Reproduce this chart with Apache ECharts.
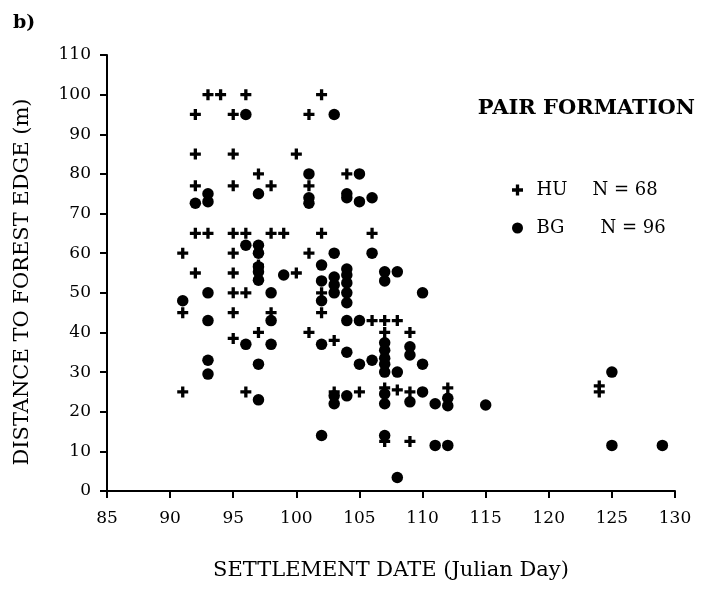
<!DOCTYPE html>
<html>
<head>
  <meta charset="utf-8" />
  <style>
    body, html { margin: 0; width: 100%; height: 100%; background: #fff; }
    #chart { width: 705px; height: 594px; }
  </style>
  <script src="https://cdn.jsdelivr.net/npm/echarts@6/dist/echarts.min.js"></script>
</head>
<body>
  <div id="chart"></div>
  <script>
    // HU (+) settlement day / distance
    var huDay = [91, 91, 91, 92, 92, 92, 92, 92, 93, 93, 94,
      95, 95, 95, 95, 95, 95, 95, 95, 95, 96, 96, 96, 96,
      97, 97, 97, 98, 98, 98, 99, 100, 100, 101, 101, 101, 101,
      102, 102, 102, 102, 103, 103, 104, 105, 106, 106,
      107, 107, 107, 107, 108, 108, 109, 109, 109, 112, 124, 124]
    var huDist = [60, 45, 25, 95, 85, 77, 65, 55, 100, 65, 100,
      95, 85, 77, 65, 60, 55, 50, 45, 38.5, 100, 65, 50, 25,
      80, 57, 40, 77, 65, 45, 65, 85, 55, 95, 77, 60, 40,
      100, 65, 50, 45, 38, 25, 80, 25, 65, 43,
      43, 40, 26, 12.5, 43, 25.5, 40, 25, 12.5, 26, 26.5, 25]

    // BG (circles)
    var bgDay = [91, 92, 93, 93, 93, 93, 93, 93, 96, 96, 96,
      97, 97, 97, 97, 97, 97, 97, 97, 98, 98, 98, 99, 101, 101, 101,
      102, 102, 102, 102, 102, 103, 103, 103, 103, 103, 103, 103,
      104, 104, 104, 104, 104, 104, 104, 104, 104, 104,
      105, 105, 105, 105, 106, 106, 106,
      107, 107, 107, 107, 107, 107, 107, 107, 107, 107,
      108, 108, 108, 109, 109, 109, 110, 110, 110, 111, 111,
      112, 112, 112, 115, 125, 125, 129]
    var bgDist = [48, 72.6, 75, 73, 50, 43, 33, 29.5, 95, 62, 37,
      75, 62, 60, 56.6, 55.3, 53.2, 32, 23, 50, 43, 37, 54.5, 80, 74, 72.6,
      57, 53, 48, 37, 14, 95, 60, 54, 52, 50, 24, 22,
      75, 74, 56, 54.5, 52.5, 50, 47.5, 43, 35, 24,
      80, 73, 43, 32, 74, 60, 33,
      55.3, 53, 37.4, 35.5, 33.5, 32, 30, 24.5, 22, 14,
      55.3, 30, 3.4, 36.4, 34.3, 22.5, 50, 32, 25, 22, 11.5,
      23.4, 21.5, 11.5, 21.7, 30, 11.5, 11.5]

    var xTicks = [85, 130, 5]
    var yTicks = [0, 110, 10]

    function pairs(xs, ys) {
      return xs.map(function (x, i) { return [x, ys[i]] })
    }

    var plus = 'path://M3.5,0H6.5V3.5H10V6.5H6.5V10H3.5V6.5H0V3.5H3.5Z'
    var serif = '"DejaVu Serif", "Liberation Serif", serif'

    var chart = echarts.init(document.getElementById('chart'))
    chart.setOption({
      animation: false,
      backgroundColor: '#fff',
      textStyle: { fontFamily: serif, color: '#000' },
      title: [
        { text: 'b)', left: 8, top: 9, textStyle: { fontFamily: serif, fontSize: 19, fontWeight: 'bold', color: '#000' } },
        { text: 'PAIR FORMATION', right: 5, top: 93, textStyle: { fontFamily: serif, fontSize: 21, fontWeight: 'bold', color: '#000' } }
      ],
      legend: {
        orient: 'vertical',
        left: 507,
        top: 176,
        itemGap: 20,
        itemWidth: 28,
        itemHeight: 11,
        data: [
          { name: 'HU', icon: plus },
          { name: 'BG', icon: 'circle' }
        ],
        textStyle: {
          fontFamily: serif, fontSize: 18, color: '#000',
          rich: {
            a: { fontFamily: serif, fontSize: 18, width: 56 },
            b: { fontFamily: serif, fontSize: 18, width: 64 },
            v: { fontFamily: serif, fontSize: 18 }
          }
        },
        formatter: function (name) {
          return name === 'HU' ? '{a|HU}{v|N = 68}' : '{b|BG}{v|N = 96}'
        }
      },
      grid: { left: 107, right: 30, top: 55, bottom: 103 },
      xAxis: {
        type: 'value',
        min: xTicks[0], max: xTicks[1], interval: xTicks[2],
        name: 'SETTLEMENT DATE (Julian Day)',
        nameLocation: 'middle',
        nameGap: 69,
        nameTextStyle: { fontFamily: serif, fontSize: 21, color: '#000' },
        axisLine: { onZero: false, lineStyle: { color: '#000', width: 2 } },
        axisTick: { length: 7, lineStyle: { color: '#000', width: 2 } },
        axisLabel: { fontFamily: serif, fontSize: 17, color: '#000', margin: 19 },
        splitLine: { show: false }
      },
      yAxis: {
        type: 'value',
        min: yTicks[0], max: yTicks[1], interval: yTicks[2],
        name: 'DISTANCE TO FOREST EDGE (m)',
        nameLocation: 'middle',
        nameGap: 74,
        nameTextStyle: { fontFamily: serif, fontSize: 21, color: '#000', padding: [0, 18, 0, 0] },
        axisLine: { lineStyle: { color: '#000', width: 2 } },
        axisTick: { length: 7, lineStyle: { color: '#000', width: 2 } },
        axisLabel: { fontFamily: serif, fontSize: 17, color: '#000', margin: 16 },
        splitLine: { show: false }
      },
      series: [
        {
          name: 'HU', type: 'scatter', symbol: plus, symbolSize: 11,
          itemStyle: { color: '#000', opacity: 1 }, data: pairs(huDay, huDist)
        },
        {
          name: 'BG', type: 'scatter', symbol: 'circle', symbolSize: 11.5,
          itemStyle: { color: '#000', opacity: 1 }, data: pairs(bgDay, bgDist)
        }
      ]
    })
  </script>
</body>
</html>
